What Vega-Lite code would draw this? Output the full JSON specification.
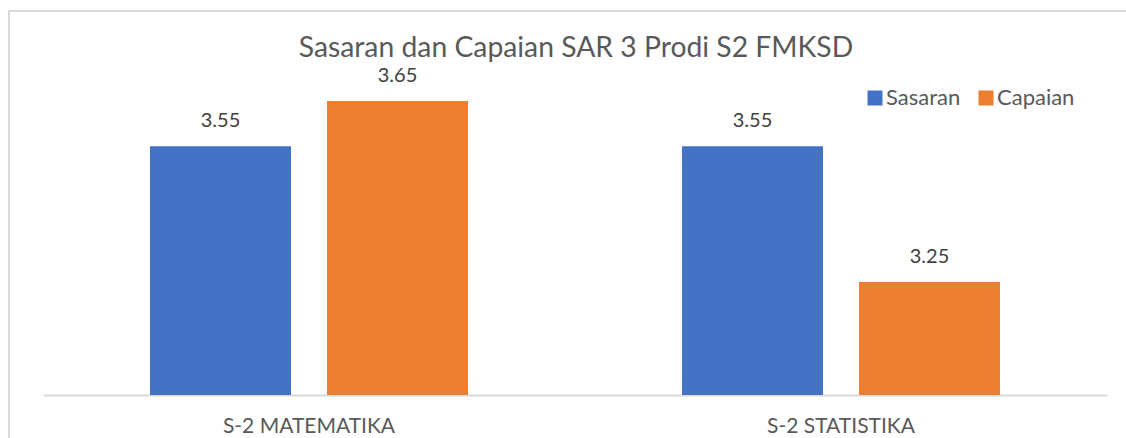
{
  "$schema": "https://vega.github.io/schema/vega-lite/v6.json",
  "autosize": "none",
  "width": 1120,
  "height": 430,
  "padding": {"left": 9, "top": 11, "right": -3, "bottom": -3},
  "background": "white",
  "title": {
    "text": "Sasaran dan Capaian SAR 3 Prodi S2 FMKSD",
    "anchor": "middle",
    "frame": "group",
    "baseline": "alphabetic",
    "offset": -74,
    "dx": 7,
    "font": "Lato",
    "fontSize": 28.3,
    "fontWeight": "normal",
    "color": "#595959"
  },
  "data": {
    "values": [
      {"prodi": "S-2 MATEMATIKA", "seri": "Sasaran", "nilai": 3.55},
      {"prodi": "S-2 MATEMATIKA", "seri": "Capaian", "nilai": 3.65},
      {"prodi": "S-2 STATISTIKA", "seri": "Sasaran", "nilai": 3.55},
      {"prodi": "S-2 STATISTIKA", "seri": "Capaian", "nilai": 3.25}
    ]
  },
  "encoding": {
    "x": {
      "field": "prodi",
      "type": "nominal",
      "sort": null,
      "scale": {"range": [34, 1098], "paddingInner": 0, "paddingOuter": 0},
      "axis": {
        "title": null,
        "orient": "bottom",
        "offset": -46,
        "labelAngle": 0,
        "ticks": false,
        "tickSize": 0,
        "labelPadding": 37,
        "labelBaseline": "alphabetic",
        "labelFont": "Lato",
        "labelFontSize": 21,
        "labelColor": "#595959",
        "domainColor": "#d9d9d9",
        "domainWidth": 2,
        "grid": false
      }
    },
    "xOffset": {
      "field": "seri",
      "type": "nominal",
      "sort": ["Sasaran", "Capaian"],
      "scale": {"paddingInner": 0.2034, "paddingOuter": 0.6045}
    },
    "y": {
      "field": "nilai",
      "type": "quantitative",
      "scale": {"domain": [3, 3.7], "range": [384, 67.25], "zero": false, "nice": false},
      "axis": null
    }
  },
  "layer": [
    {
      "mark": {"type": "bar"},
      "encoding": {
        "y2": {"datum": 3},
        "color": {
          "field": "seri",
          "type": "nominal",
          "sort": ["Sasaran", "Capaian"],
          "scale": {"domain": ["Sasaran", "Capaian"], "range": ["#4472C4", "#ED7D31"]},
          "legend": {
            "title": null,
            "orient": "none",
            "direction": "horizontal",
            "legendX": 855,
            "legendY": 76,
            "padding": 0,
            "symbolType": "square",
            "symbolSize": 225,
            "symbolStrokeWidth": 0,
            "labelFont": "Lato",
            "labelFontSize": 22,
            "labelColor": "#595959",
            "labelOffset": 0,
            "columnPadding": 14
          }
        }
      }
    },
    {
      "mark": {
        "type": "text",
        "baseline": "alphabetic",
        "dy": -19,
        "font": "Lato",
        "fontSize": 20,
        "color": "#404040"
      },
      "encoding": {
        "text": {"field": "nilai", "type": "quantitative", "format": ".2f"}
      }
    }
  ],
  "config": {
    "view": {"stroke": "#d9d9d9", "strokeWidth": 2}
  }
}
